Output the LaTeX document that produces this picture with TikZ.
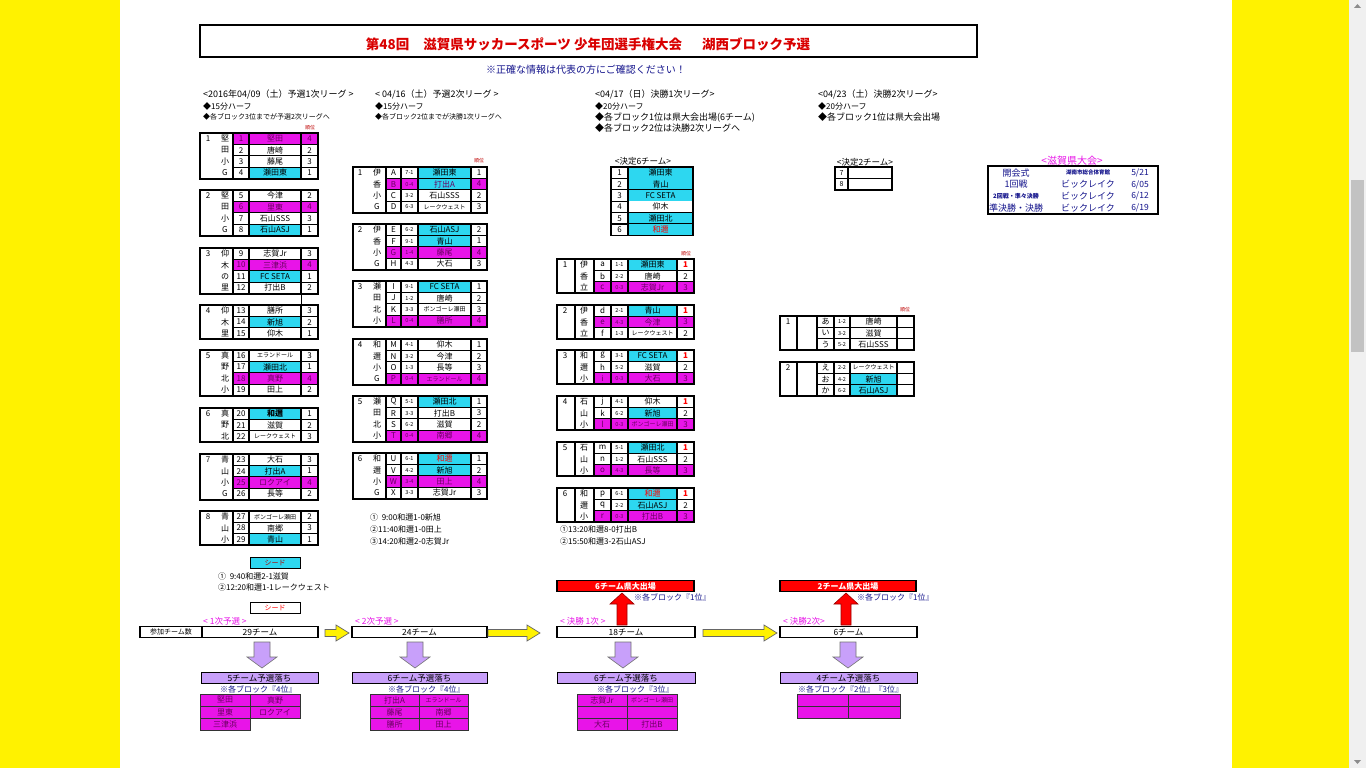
\documentclass[tikz,border=0pt]{standalone}
\usepackage{fontspec}
\setmainfont{Noto Sans CJK JP}

\definecolor{mag}{RGB}{232,20,232}
\definecolor{cya}{RGB}{45,215,240}
\definecolor{lav}{RGB}{200,160,250}
\definecolor{navy}{RGB}{20,20,140}
\definecolor{dmag}{RGB}{105,0,95}
\colorlet{rowW}{white}\colorlet{rowM}{mag}
\colorlet{cellW}{white}\colorlet{cellM}{mag}\colorlet{cellC}{cya}
\colorlet{txtW}{black}\colorlet{txtM}{dmag}

\newcommand\nrw[1]{{\fontsize{6}{6}\selectfont #1}}
\newcommand\win[1]{\textcolor{red}{\textbf{#1}}}
\def\rowh{11.4}

\tikzset{
  cell/.style={inner sep=0pt, font=\fontsize{8}{8}\selectfont},
  score/.style={inner sep=0pt, font=\fontsize{5.5}{6}\selectfont},
  rule/.style={line width=1.35pt},
  frame/.style={line width=1.8pt},
  midline/.style={},
  lbl/.style={inner sep=0pt, anchor=west, font=\fontsize{9}{9}\selectfont},
  note/.style={inner sep=0pt, anchor=west, font=\fontsize{7}{7}\selectfont},
  hd/.style={inner sep=0pt, font=\fontsize{5}{5}\selectfont, text=red!75!black},
  flow/.style={draw, line width=1.3pt, inner sep=0pt, minimum height=11pt, font=\fontsize{8.5}{8.5}\selectfont},
  drop/.style={flow, fill=lav, line width=1pt},
  champ/.style={flow, fill=red, text=white, font=\bfseries\fontsize{8}{8}\selectfont},
  stage/.style={inner sep=0pt, anchor=west, text=mag, font=\fontsize{8.5}{8.5}\selectfont},
  blk/.style={inner sep=0pt, anchor=west, text=navy, font=\fontsize{8}{8}\selectfont},
  gridcell/.style={fill=mag, draw=black!80, line width=.8pt},
}

% first round league: no / team / rank
\newcommand\leagueA[5]{%
  \foreach \sq/\tm/\rk/\rw/\tc [count=\i] in {#5} {
    \pgfmathsetmacro\ya{#2+(\i-1)*\rowh}
    \pgfmathsetmacro\yb{#2+\i*\rowh}
    \pgfmathsetmacro\ym{#2+(\i-.5)*\rowh}
    \fill[fill=row\rw] (\xB,\ya) rectangle (\xE,\yb);
    \fill[fill=cell\tc] (\xC,\ya) rectangle (\xD,\yb);
    \node[cell, text=txt\rw] (#1-n\i) at ({(\xB+\xC)/2},\ym) {\sq};
    \node[cell, text=txt\rw] (#1-t\i) at ({(\xC+\xD)/2},\ym) {\tm};
    \node[cell, text=txt\rw] (#1-r\i) at ({(\xD+\xE)/2},\ym) {\rk};
    \xdef\ybot{\yb}\xdef\nrows{\i}
  }
  \foreach \s [count=\j] in {#4}
    \node[cell] (#1-s\j) at (\xS,{#2+(\j-.5)*\rowh}) {\s};
  \node[cell] (#1-b) at (\xN,{#2+.5*\rowh}) {#3};
  \foreach \j in {1,...,\nrows}
    \draw[rule] (\xB,{#2+\j*\rowh}) -- (\xE,{#2+\j*\rowh});
  \draw[rule] (\xB,#2) -- (\xB,\ybot) (\xC,#2) -- (\xC,\ybot) (\xD,#2) -- (\xD,\ybot);
  \draw[frame] (\xA,#2) rectangle (\xE,\ybot);
}

% later leagues: letter / score / team / rank
\newcommand\leagueB[5]{%
  \foreach \lt/\scr/\tm/\rk/\rw/\tc [count=\i] in {#5} {
    \pgfmathsetmacro\ya{#2+(\i-1)*\rowh}
    \pgfmathsetmacro\yb{#2+\i*\rowh}
    \pgfmathsetmacro\ym{#2+(\i-.5)*\rowh}
    \fill[fill=row\rw] (\xB,\ya) rectangle (\xF,\yb);
    \fill[fill=cell\tc] (\xD,\ya) rectangle (\xE,\yb);
    \node[cell, text=txt\rw] (#1-l\i) at ({(\xB+\xC)/2},\ym) {\lt};
    \node[score, text=txt\rw] (#1-c\i) at ({(\xC+\xD)/2},\ym) {\scr};
    \node[cell, text=txt\rw] (#1-t\i) at ({(\xD+\xE)/2},\ym) {\tm};
    \node[cell, text=txt\rw] (#1-r\i) at ({(\xE+\xF)/2},\ym) {\rk};
    \xdef\ybot{\yb}\xdef\nrows{\i}
  }
  \foreach \s [count=\j] in {#4}
    \node[cell] (#1-s\j) at (\xS,{#2+(\j-.5)*\rowh}) {\s};
  \node[cell] (#1-b) at (\xN,{#2+.5*\rowh}) {#3};
  \foreach \j in {1,...,\nrows}
    \draw[rule] (\xB,{#2+\j*\rowh}) -- (\xF,{#2+\j*\rowh});
  \draw[rule] (\xB,#2) -- (\xB,\ybot) (\xC,#2) -- (\xC,\ybot) (\xD,#2) -- (\xD,\ybot) (\xE,#2) -- (\xE,\ybot);
  \draw[rule, midline] (\xM,#2) -- (\xM,\ybot);
  \draw[frame] (\xA,#2) rectangle (\xF,\ybot);
}

\newcommand\outgrid[5]{%
  \foreach \a/\b [count=\i] in {#5} {
    \pgfmathsetmacro\ya{#4+(\i-1)*12}
    \pgfmathsetmacro\xm{(#2+#3)/2}
    \draw[gridcell] (#2,\ya) rectangle (\xm,\ya+12);
    \draw[gridcell] (\xm,\ya) rectangle (#3,\ya+12);
    \node[cell, text=txtM] (#1-a\i) at ({(#2+\xm)/2},\ya+6) {\a};
    \node[cell, text=txtM] (#1-b\i) at ({(\xm+#3)/2},\ya+6) {\b};
  }
}
\newcommand\downarr[3]{%
  \draw[fill=lav, draw=black!55, line width=.6pt] (#1-8,#2) -- (#1+8,#2) -- (#1+8,#3-11) -- (#1+15,#3-11)
    -- (#1,#3) -- (#1-15,#3-11) -- (#1-8,#3-11) -- cycle;
}
\newcommand\uparr[3]{%
  \draw[fill=red, draw=red!60!black, line width=.6pt] (#1-5,#3) -- (#1+5,#3) -- (#1+5,#2+11) -- (#1+12,#2+11)
    -- (#1,#2) -- (#1-12,#2+11) -- (#1-5,#2+11) -- cycle;
}
\newcommand\rightarr[3]{%
  \draw[fill=yellow, draw=black!60, line width=.7pt] (#2,#1-3.5) -- (#3-13,#1-3.5) -- (#3-13,#1-8) -- (#3,#1)
    -- (#3-13,#1+8) -- (#3-13,#1+3.5) -- (#2,#1+3.5) -- cycle;
}

\begin{document}
\begin{tikzpicture}[x=1pt, y=-1pt]
  \useasboundingbox (0,0) rectangle (1366,768);
  % page
  \fill[yellow] (0,0) rectangle (1366,768);
  \fill[white] (120,0) rectangle (1232,768);
  \fill[black!6] (1349,0) rectangle (1366,768);
  \fill[black!24] (1351,180) rectangle (1364,352);
  \fill[black!45] (1354,8) -- (1361,8) -- (1357.5,4) -- cycle;
  \fill[black!45] (1354,760) -- (1361,760) -- (1357.5,764) -- cycle;

  % title
  \draw[line width=2.5pt] (200,25) rectangle (977,57);
  \node[inner sep=0pt, text=red!85!black, font=\bfseries\fontsize{13.5}{13.5}\selectfont] (title) at (588,44)
    {第48回\hspace{14pt}滋賀県サッカースポーツ 少年団選手権大会\hspace{20pt}湖西ブロック予選};
  \node[inner sep=0pt, text=navy, font=\fontsize{10}{10}\selectfont] (info) at (586,70) {※正確な情報は代表の方にご確認ください！};

  % column heads
  \node[lbl] (h1) at (203,94) {<2016年04/09（土）予選1次リーグ >};
  \node[lbl] (h2) at (375,94) {< 04/16（土）予選2次リーグ >};
  \node[lbl] (h3) at (595,94) {<04/17（日）決勝1次リーグ>};
  \node[lbl] (h4) at (818,94) {<04/23（土）決勝2次リーグ>};
  \node[note, font=\fontsize{8}{8}\selectfont] (r1a) at (203,106) {◆15分ハーフ};
  \node[note] (r1b) at (203,117) {◆各ブロック3位までが予選2次リーグへ};
  \node[note, font=\fontsize{8}{8}\selectfont] (r2a) at (375,106) {◆15分ハーフ};
  \node[note] (r2b) at (375,117) {◆各ブロック2位までが決勝1次リーグへ};
  \node[note, font=\fontsize{8}{8}\selectfont] (r3a) at (595,106) {◆20分ハーフ};
  \node[note, font=\fontsize{9}{9}\selectfont] (r3b) at (595,117) {◆各ブロック1位は県大会出場(6チーム)};
  \node[note, font=\fontsize{9}{9}\selectfont] (r3c) at (595,128) {◆各ブロック2位は決勝2次リーグへ};
  \node[note, font=\fontsize{8}{8}\selectfont] (r4a) at (818,106) {◆20分ハーフ};
  \node[note, font=\fontsize{9}{9}\selectfont] (r4b) at (818,117) {◆各ブロック1位は県大会出場};

  % 1st round
  \def\xA{200}\def\xN{208}\def\xS{225}\def\xB{233}\def\xC{249}\def\xD{301}\def\xE{318}
  \node[hd] (p-hd) at (310,128) {順位};
  \leagueA{p1}{133}{1}{堅,田,小,G}{1/堅田/4/M/M, 2/唐崎/2/W/W, 3/藤尾/3/W/W, 4/瀬田東/1/W/C}
  \leagueA{p2}{190}{2}{堅,田,小,G}{5/今津/2/W/W, 6/里東/4/M/M, 7/石山SSS/3/W/W, 8/石山ASJ/1/W/C}
  \leagueA{p3}{248}{3}{仰,木,の,里}{9/志賀Jr/3/W/W, 10/三津浜/4/M/M, 11/FC SETA/1/W/C, 12/打出B/2/W/W}
  \leagueA{p4}{305}{4}{仰,木,里}{13/膳所/3/W/W, 14/新旭/2/W/C, 15/仰木/1/W/W}
  \leagueA{p5}{350}{5}{真,野,北,小}{16/\nrw{エランドール}/3/W/W, 17/瀬田北/1/W/C, 18/真野/4/M/M, 19/田上/2/W/W}
  \leagueA{p6}{408}{6}{真,野,北}{20/\textbf{和邇}/1/W/C, 21/滋賀/2/W/W, 22/\nrw{レークウェスト}/3/W/W}
  \leagueA{p7}{454}{7}{青,山,小,G}{23/大石/3/W/W, 24/打出A/1/W/C, 25/ロクアイ/4/M/M, 26/長等/2/W/W}
  \leagueA{p8}{511}{8}{青,山,小}{27/\nrw{ボンゴーレ瀬田}/2/W/W, 28/南郷/3/W/W, 29/青山/1/W/C}
  \draw[thin] (301,293) -- (301,305);

  \node[flow, fill=cya, line width=.8pt, minimum width=50pt, text=red!70!black, font=\fontsize{7}{7}\selectfont] (seed1) at (275,563) {シード};
  \node[note, font=\fontsize{8}{8}\selectfont] (m1a) at (218,576) {①\ \ 9:40和邇2-1滋賀};
  \node[note, font=\fontsize{8}{8}\selectfont] (m1b) at (218,587) {②12:20和邇1-1レークウェスト};
  \node[flow, line width=.8pt, minimum width=50pt, text=red, font=\fontsize{7}{7}\selectfont] (seed2) at (275,608) {シード};

  % 2nd round
  \def\xA{353}\def\xN{360}\def\xS{377}\def\xB{386}\def\xC{401}\def\xD{418}\def\xE{471}\def\xF{487}\def\xM{353}
  \node[hd] (q-hd) at (479,161) {順位};
  \leagueB{q1}{167}{1}{伊,香,小,G}{A/7-1/瀬田東/1/W/C, B/0-4/打出A/4/M/C, C/3-2/石山SSS/2/W/W, D/6-3/\nrw{レークウェスト}/3/W/W}
  \leagueB{q2}{224}{2}{伊,香,小,G}{E/6-2/石山ASJ/2/W/C, F/9-1/青山/1/W/C, G/1-4/藤尾/4/M/M, H/4-3/大石/3/W/W}
  \leagueB{q3}{281}{3}{瀬,田,北,小}{I/9-1/FC SETA/1/W/C, J/1-2/唐崎/2/W/W, K/3-3/\nrw{ボンゴーレ瀬田}/3/W/W, L/0-4/膳所/4/M/M}
  \leagueB{q4}{339}{4}{和,邇,小,G}{M/4-1/仰木/1/W/W, N/3-2/今津/2/W/W, O/1-3/長等/3/W/W, P/0-4/\nrw{エランドール}/4/M/M}
  \leagueB{q5}{396}{5}{瀬,田,北,小}{Q/5-1/瀬田北/1/W/C, R/3-3/打出B/3/W/W, S/6-2/滋賀/2/W/W, T/0-4/南郷/4/M/M}
  \leagueB{q6}{453}{6}{和,邇,小,G}{U/6-1/\textcolor{red}{和邇}/1/W/C, V/4-2/新旭/2/W/C, W/3-4/田上/4/M/M, X/3-3/志賀Jr/3/W/W}
  \node[note, font=\fontsize{8}{8}\selectfont] (m2a) at (370,517) {①\ \ 9:00和邇1-0新旭};
  \node[note, font=\fontsize{8}{8}\selectfont] (m2b) at (370,529) {②11:40和邇1-0田上};
  \node[note, font=\fontsize{8}{8}\selectfont] (m2c) at (370,541) {③14:20和邇2-0志賀Jr};

  % final 1st round
  \node[inner sep=0pt, font=\fontsize{8.5}{8.5}\selectfont] (six) at (643,161) {<決定6チーム>};
  \foreach \tm/\tc [count=\i] in {瀬田東/C, 青山/C, FC SETA/C, 仰木/W, 瀬田北/C, \textcolor{red}{和邇}/C} {
    \fill[fill=cell\tc] (628,{167+(\i-1)*\rowh}) rectangle (693,{167+\i*\rowh});
    \node[cell] (six-n\i) at (619.5,{167+(\i-.5)*\rowh}) {\i};
    \node[cell] (six-t\i) at (660.5,{167+(\i-.5)*\rowh}) {\tm};
    \draw[rule] (611,{167+\i*\rowh}) -- (693,{167+\i*\rowh});
  }
  \draw[rule] (628,167) -- (628,{167+6*\rowh});
  \draw[frame] (611,167) rectangle (693,{167+6*\rowh});

  \def\xA{557}\def\xN{565}\def\xS{584}\def\xB{594}\def\xC{611}\def\xD{628}\def\xE{677}\def\xF{694}\def\xM{575}
  \node[hd] (r-hd) at (686,254) {順位};
  \leagueB{r1}{259}{1}{伊,香,立}{a/1-1/瀬田東/\win{1}/W/C, b/2-2/唐崎/2/W/W, c/0-3/志賀Jr/3/M/M}
  \leagueB{r2}{305}{2}{伊,香,立}{d/2-1/青山/\win{1}/W/C, e/4-3/今津/3/M/M, f/1-3/\nrw{レークウェスト}/2/W/W}
  \leagueB{r3}{350}{3}{和,邇,小}{g/3-1/FC SETA/\win{1}/W/C, h/5-2/滋賀/2/W/W, i/0-3/大石/3/M/M}
  \leagueB{r4}{396}{4}{石,山,小}{j/4-1/仰木/\win{1}/W/W, k/6-2/新旭/2/W/C, l/0-3/\nrw{ボンゴーレ瀬田}/3/M/M}
  \leagueB{r5}{442}{5}{石,山,小}{m/5-1/瀬田北/\win{1}/W/C, n/1-2/石山SSS/2/W/W, o/4-3/長等/3/M/M}
  \leagueB{r6}{488}{6}{和,邇,小}{p/6-1/\textcolor{red}{和邇}/\win{1}/W/C, q/2-2/石山ASJ/2/W/C, r/0-3/打出B/3/M/M}
  \node[note, font=\fontsize{8}{8}\selectfont] (m3a) at (560,529) {①13:20和邇8-0打出B};
  \node[note, font=\fontsize{8}{8}\selectfont] (m3b) at (560,541) {②15:50和邇3-2石山ASJ};

  % final 2nd round
  \node[inner sep=0pt, font=\fontsize{8.5}{8.5}\selectfont] (two) at (865,162) {<決定2チーム>};
  \foreach \i in {1,2} {
    \node[cell, font=\fontsize{7}{7}\selectfont] (two-n\i) at (841.5,{167+(\i-.5)*\rowh}) {\pgfmathparse{int(\i+6)}\pgfmathresult};
    \draw[rule] (835,{167+\i*\rowh}) -- (892,{167+\i*\rowh});
  }
  \draw[rule] (848,167) -- (848,{167+2*\rowh});
  \draw[frame] (835,167) rectangle (892,{167+2*\rowh});

  \def\xA{780}\def\xN{788}\def\xS{807}\def\xB{817}\def\xC{834}\def\xD{850}\def\xE{897}\def\xF{914}\def\xM{797}
  \node[hd] (s-hd) at (905,310) {順位};
  \leagueB{s1}{316}{1}{{}}{あ/1-2/唐崎/{}/W/W, い/3-2/滋賀/{}/W/W, う/5-2/石山SSS/{}/W/W}
  \leagueB{s2}{362}{2}{{}}{え/2-2/\nrw{レークウェスト}/{}/W/W, お/4-2/新旭/{}/W/C, か/6-2/石山ASJ/{}/W/C}

  % prefecture tournament
  \node[inner sep=0pt, text=mag, font=\fontsize{10}{10}\selectfont] (pref) at (1072,161) {<滋賀県大会>};
  \draw[line width=2pt] (988,166) rectangle (1158,214);
  \foreach \a/\v/\d [count=\i] in {開会式/{\fontsize{5.5}{6}\selectfont\bfseries 湖南市総合体育館}/{5/21},
      1回戦/ビックレイク/{6/05}, {\fontsize{6}{6}\selectfont\bfseries 2回戦・準々決勝}/ビックレイク/{6/12},
      準決勝・決勝/ビックレイク/{6/19}} {
    \node[inner sep=0pt, text=navy, font=\fontsize{9}{9}\selectfont] (pref-a\i) at (1016,{161+\i*11.7}) {\a};
    \node[inner sep=0pt, text=navy, font=\fontsize{9}{9}\selectfont] (pref-v\i) at (1088,{161+\i*11.7}) {\v};
    \node[inner sep=0pt, text=navy, font=\fontsize{8.5}{8.5}\selectfont] (pref-d\i) at (1140,{161+\i*11.7}) {\d};
  }

  % flow: 1st round
  \node[stage] (st1) at (203,621) {< 1次予選 >};
  \node[flow, minimum width=62pt, font=\fontsize{7}{7}\selectfont] (cnt) at (171,632) {参加チーム数};
  \node[flow, minimum width=116pt] (n1) at (260,632) {29チーム};
  \downarr{262}{642}{668}
  \node[drop, minimum width=117pt] (d1) at (259.5,678) {5チーム予選落ち};
  \node[blk] (b1) at (220,689) {※各ブロック『4位』};
  \outgrid{g1}{200}{300}{694}{堅田/真野, 里東/ロクアイ}
  \draw[gridcell] (200,718) rectangle (250,730);
  \node[cell, text=txtM] (g1-a3) at (225,724) {三津浜};
  \rightarr{633}{325}{349}

  % flow: 2nd round
  \node[stage] (st2) at (355,621) {< 2次予選 >};
  \node[flow, minimum width=135pt] (n2) at (419.5,632) {24チーム};
  \downarr{415}{642}{668}
  \node[drop, minimum width=135pt] (d2) at (419.5,678) {6チーム予選落ち};
  \node[blk] (b2) at (388,689) {※各ブロック『4位』};
  \outgrid{g2}{370}{468}{694}{打出A/\nrw{エランドール}, 藤尾/南郷, 膳所/田上}
  \rightarr{633}{488}{540}

  % flow: final 1st round
  \node[stage] (st3) at (560,621) {< 決勝 1次 >};
  \node[champ, minimum width=137pt] (c3) at (625.5,586) {6チーム県大出場};
  \uparr{622}{593}{625}
  \node[blk] (u3) at (634,597) {※各ブロック『1位』};
  \node[flow, minimum width=138pt] (n3) at (626,632) {18チーム};
  \downarr{623}{642}{668}
  \node[drop, minimum width=138pt] (d3) at (626,678) {6チーム予選落ち};
  \node[blk] (b3) at (597,689) {※各ブロック『3位』};
  \outgrid{g3}{577}{677}{694}{志賀Jr/\nrw{ボンゴーレ瀬田}, {}/{}, 大石/打出B}
  \rightarr{633}{703}{777}

  % flow: final 2nd round
  \node[stage] (st4) at (783,621) {< 決勝2次>};
  \node[champ, minimum width=136pt] (c4) at (848,586) {2チーム県大出場};
  \uparr{846}{593}{625}
  \node[blk] (u4) at (857,597) {※各ブロック『1位』};
  \node[flow, minimum width=137pt] (n4) at (848.5,632) {6チーム};
  \downarr{848}{642}{668}
  \node[drop, minimum width=137pt] (d4) at (848.5,678) {4チーム予選落ち};
  \node[blk] (b4) at (798,689) {※各ブロック『2位』『3位』};
  \outgrid{g4}{797}{900}{694}{{}/{}, {}/{}}
\end{tikzpicture}
\end{document}
